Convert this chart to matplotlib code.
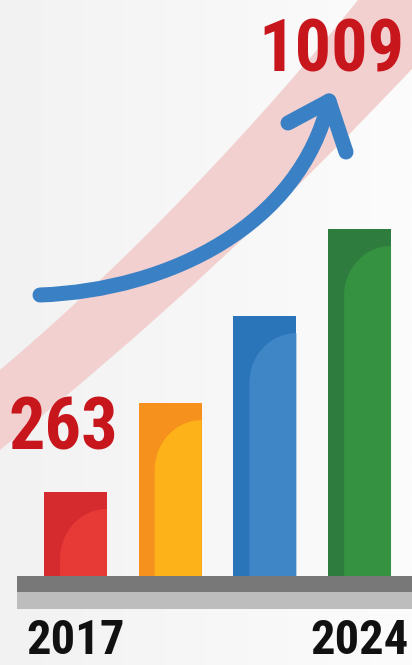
import matplotlib
matplotlib.use("Agg")
import numpy as np
import matplotlib.pyplot as plt
from matplotlib import transforms, font_manager
from matplotlib.colors import LinearSegmentedColormap
from matplotlib.patches import Rectangle, PathPatch
from matplotlib.path import Path

W, H = 412, 665

# data
years = ["2017", "2019", "2021", "2024"]
values = [263, 515, 762, 1009]
tick_labels = ["2017", "", "", "2024"]
bar_dark = ["#d52b2f", "#f7911e", "#2a74b9", "#2e7d3f"]
bar_light = ["#e73a37", "#fcb218", "#3f86c7", "#359241"]

LABEL_RED = "#c8161d"
ARROW_BLUE = "#3a80c4"
BAND_PINK = "#f3d0d0"


def pick_font(names):
    have = {f.name for f in font_manager.fontManager.ttflist}
    for n in names:
        if n in have:
            return n
    return "DejaVu Sans"


FONT = pick_font(["Liberation Sans Narrow", "Roboto Condensed", "Roboto"])

fig = plt.figure(figsize=(W / 100, H / 100), dpi=100)
fig.patch.set_facecolor("#f7f7f7")
ax = fig.add_axes([0, 0, 1, 1])
ax.axis("off")

# value axis: bar floor sits at ~27.6, 2.836 units per pixel
ax.set_xlim(-0.7975, 3.554)
ax.set_ylim(-227.6, 1658.4)
sx = 1 / 94.67   # data x per pixel
sy = 2.836       # data y per pixel

# pixel coords (origin top-left) for decorations
tr = transforms.Affine2D().scale(1 / W, -1 / H).translate(0, 1) + fig.transFigure

# soft background gradient
grad = np.linspace(0, 1, 256).reshape(1, -1)
bg_cmap = LinearSegmentedColormap.from_list("bg", ["#f2f2f2", "#fcfcfc"])
ax.imshow(grad, extent=[-0.7975, 3.554, -227.6, 1658.4], aspect="auto",
          cmap=bg_cmap, zorder=0)

# pink diagonal band
band = Path(
    [(-5, 374), (120, 270), (260, 123), (362, -5),
     (470, -5), (470, 10), (425, 55),
     (290, 200), (150, 330), (-5, 454), (-5, 374)],
    [Path.MOVETO, Path.CURVE4, Path.CURVE4, Path.CURVE4,
     Path.LINETO, Path.LINETO, Path.LINETO,
     Path.CURVE4, Path.CURVE4, Path.CURVE4, Path.CLOSEPOLY])
ax.add_patch(PathPatch(band, facecolor=BAND_PINK, edgecolor="none",
                       transform=tr, zorder=1))

# bars
x = np.arange(len(values))
width = 0.665
bars = ax.bar(x, values, width=width, color=bar_dark, zorder=3)

k = 0.5523
for rect, light in zip(bars, bar_light):
    xl = rect.get_x() + 16 * sx
    xr = rect.get_x() + rect.get_width()
    yt = rect.get_height() - 17 * sy
    yb = 0
    rx = xr - xl
    ry = min(50 * sy, (yt - yb) * 0.8)
    p = Path([(xl, yb), (xl, yt - ry), (xl, yt - ry + k * ry),
              (xr - k * rx, yt), (xr, yt), (xr, yb), (xl, yb)],
             [Path.MOVETO, Path.LINETO, Path.CURVE4, Path.CURVE4,
              Path.CURVE4, Path.LINETO, Path.CLOSEPOLY])
    ax.add_patch(PathPatch(p, facecolor=light, edgecolor="none", zorder=3.5))

# floor
ax.add_patch(Rectangle((17, 576), 420, 16, facecolor="#787878",
                       edgecolor="none", transform=tr, zorder=4))
ax.add_patch(Rectangle((17, 592), 420, 17, facecolor="#bdbdbd",
                       edgecolor="none", transform=tr, zorder=4))

# curved growth arrow
lw = 15 * 72 / 100
shaft = Path([(40, 295), (170, 290), (300, 225), (329, 101)],
             [Path.MOVETO, Path.CURVE4, Path.CURVE4, Path.CURVE4])
ax.add_patch(PathPatch(shaft, facecolor="none", edgecolor=ARROW_BLUE, lw=lw,
                       capstyle="round", transform=tr, zorder=5))
head = Path([(288, 123), (329, 101), (346, 152)],
            [Path.MOVETO, Path.LINETO, Path.LINETO])
ax.add_patch(PathPatch(head, facecolor="none", edgecolor=ARROW_BLUE, lw=lw,
                       capstyle="round", joinstyle="round", transform=tr,
                       zorder=5))

# value labels for first and last year
ax.text(63.5, 450, f"{values[0]}", transform=tr, ha="center", va="baseline",
        fontsize=52, fontweight="bold", family=FONT, color=LABEL_RED, zorder=6)
ax.text(331.5, 72, f"{values[-1]}", transform=tr, ha="center", va="baseline",
        fontsize=52, fontweight="bold", family=FONT, color=LABEL_RED, zorder=6)

# year labels under bars
xy_tr = transforms.blended_transform_factory(ax.transData, tr)
for xi, lab in zip(x, tick_labels):
    if lab:
        ax.text(xi, 664, lab, transform=xy_tr, ha="center", va="bottom",
                fontsize=35, fontweight="bold", family=FONT, color="#111111",
                zorder=6)

fig.savefig("out.png", dpi=100, facecolor=fig.get_facecolor())
